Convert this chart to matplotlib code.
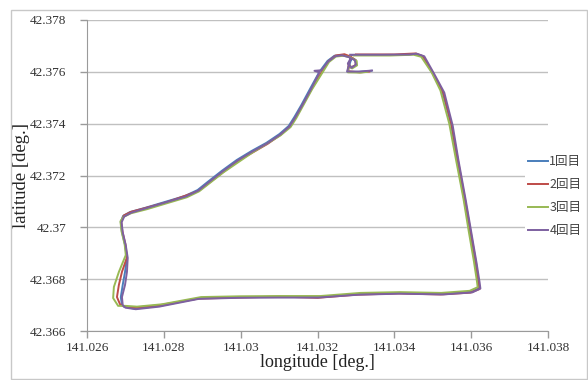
import matplotlib
matplotlib.use("Agg")
import matplotlib.pyplot as plt
import matplotlib.ticker as plticker
from matplotlib.patches import Rectangle

# + ---- data: GPS tracks (longitude, latitude) ----
labels = ["1回目", "2回目", "3回目", "4回目"]
colors = ["#4a7ebb", "#be4b48", "#98b954", "#7d60a0"]

run1 = [
    (141.03288, 42.37665), (141.03361, 42.37665), (141.03413, 42.37665), (141.03454, 42.37669),
    (141.03473, 42.37661), (141.03499, 42.37596), (141.03525, 42.37523), (141.03548, 42.37395),
    (141.03563, 42.37260), (141.03582, 42.37106), (141.03597, 42.36978), (141.03610, 42.36866),
    (141.03618, 42.36789), (141.03621, 42.36766), (141.03600, 42.36751), (141.03525, 42.36743),
    (141.03413, 42.36747), (141.03309, 42.36743), (141.03205, 42.36731), (141.03101, 42.36731),
    (141.02997, 42.36731), (141.02894, 42.36727), (141.02790, 42.36697), (141.02725, 42.36686),
    (141.02697, 42.36693), (141.02691, 42.36700), (141.02688, 42.36731), (141.02693, 42.36778),
    (141.02699, 42.36828), (141.02704, 42.36882), (141.02699, 42.36932), (141.02691, 42.36982),
    (141.02688, 42.37021), (141.02694, 42.37044), (141.02712, 42.37059), (141.02751, 42.37075),
    (141.02803, 42.37098), (141.02855, 42.37121), (141.02888, 42.37144), (141.02914, 42.37175),
    (141.02951, 42.37218), (141.02990, 42.37260), (141.03029, 42.37295), (141.03067, 42.37326),
    (141.03101, 42.37360), (141.03125, 42.37391), (141.03140, 42.37426), (141.03158, 42.37472),
    (141.03182, 42.37538), (141.03205, 42.37600), (141.03226, 42.37642), (141.03244, 42.37662),
    (141.03265, 42.37665), (141.03283, 42.37658), (141.03299, 42.37646), (141.03301, 42.37627),
    (141.03288, 42.37615), (141.03280, 42.37631), (141.03288, 42.37650), (141.03283, 42.37627),
    (141.03278, 42.37600), (141.03309, 42.37600), (141.03340, 42.37604),
]

run2 = [
    (141.03300, 42.37667), (141.03400, 42.37667), (141.03456, 42.37671), (141.03475, 42.37660),
    (141.03502, 42.37592), (141.03528, 42.37518), (141.03550, 42.37390), (141.03566, 42.37255),
    (141.03585, 42.37100), (141.03600, 42.36972), (141.03613, 42.36860), (141.03620, 42.36785),
    (141.03622, 42.36762), (141.03598, 42.36748), (141.03520, 42.36741), (141.03410, 42.36745),
    (141.03300, 42.36740), (141.03200, 42.36728), (141.03100, 42.36733), (141.02995, 42.36729),
    (141.02890, 42.36725), (141.02785, 42.36699), (141.02722, 42.36690), (141.02694, 42.36696),
    (141.02686, 42.36703), (141.02678, 42.36731), (141.02683, 42.36778), (141.02691, 42.36828),
    (141.02704, 42.36884), (141.02700, 42.36935), (141.02692, 42.36985), (141.02689, 42.37023),
    (141.02696, 42.37046), (141.02715, 42.37060), (141.02806, 42.37096), (141.02890, 42.37140),
    (141.02918, 42.37172), (141.02993, 42.37256), (141.03070, 42.37322), (141.03104, 42.37357),
    (141.03127, 42.37388), (141.03143, 42.37424), (141.03185, 42.37535), (141.03228, 42.37640),
    (141.03247, 42.37663), (141.03270, 42.37668), (141.03286, 42.37659), (141.03300, 42.37644),
    (141.03299, 42.37625), (141.03286, 42.37617), (141.03281, 42.37633), (141.03280, 42.37602),
    (141.03310, 42.37598), (141.03335, 42.37601),
]

run3 = [
    (141.03295, 42.37663), (141.03390, 42.37663), (141.03450, 42.37666), (141.03470, 42.37658),
    (141.03497, 42.37598), (141.03520, 42.37528), (141.03543, 42.37400), (141.03560, 42.37265),
    (141.03580, 42.37110), (141.03594, 42.36982), (141.03607, 42.36870), (141.03615, 42.36792),
    (141.03617, 42.36769), (141.03596, 42.36755), (141.03522, 42.36747), (141.03415, 42.36750),
    (141.03312, 42.36747), (141.03208, 42.36735), (141.03104, 42.36735), (141.03000, 42.36734),
    (141.02897, 42.36731), (141.02795, 42.36703), (141.02730, 42.36694), (141.02700, 42.36697),
    (141.02681, 42.36697), (141.02668, 42.36727), (141.02670, 42.36770), (141.02683, 42.36828),
    (141.02701, 42.36893), (141.02698, 42.36935), (141.02690, 42.36984), (141.02687, 42.37023),
    (141.02695, 42.37040), (141.02714, 42.37054), (141.02756, 42.37070), (141.02860, 42.37116),
    (141.02892, 42.37139), (141.02955, 42.37212), (141.03032, 42.37290), (141.03104, 42.37355),
    (141.03130, 42.37387), (141.03145, 42.37422), (141.03186, 42.37533), (141.03230, 42.37638),
    (141.03248, 42.37659), (141.03268, 42.37662), (141.03285, 42.37656), (141.03302, 42.37642),
    (141.03303, 42.37625), (141.03290, 42.37613), (141.03282, 42.37629), (141.03279, 42.37598),
    (141.03312, 42.37597), (141.03330, 42.37600),
]

run4 = [
    (141.03285, 42.37666), (141.03370, 42.37666), (141.03440, 42.37667), (141.03458, 42.37670),
    (141.03478, 42.37660), (141.03503, 42.37594), (141.03530, 42.37520), (141.03552, 42.37392),
    (141.03567, 42.37258), (141.03586, 42.37104), (141.03601, 42.36975), (141.03614, 42.36863),
    (141.03622, 42.36787), (141.03624, 42.36764), (141.03603, 42.36749), (141.03527, 42.36741),
    (141.03414, 42.36744), (141.03306, 42.36740), (141.03202, 42.36729), (141.03098, 42.36729),
    (141.02993, 42.36728), (141.02891, 42.36724), (141.02788, 42.36694), (141.02727, 42.36684),
    (141.02700, 42.36690), (141.02693, 42.36700), (141.02691, 42.36731), (141.02699, 42.36778),
    (141.02704, 42.36828), (141.02706, 42.36882), (141.02701, 42.36930), (141.02693, 42.36980),
    (141.02690, 42.37019), (141.02697, 42.37042), (141.02716, 42.37057), (141.02752, 42.37073),
    (141.02804, 42.37096), (141.02857, 42.37119), (141.02890, 42.37142), (141.02916, 42.37173),
    (141.02953, 42.37216), (141.02992, 42.37258), (141.03031, 42.37293), (141.03069, 42.37324),
    (141.03103, 42.37358), (141.03127, 42.37389), (141.03142, 42.37424), (141.03160, 42.37470),
    (141.03184, 42.37536), (141.03205, 42.37598), (141.03192, 42.37604), (141.03210, 42.37606),
    (141.03228, 42.37640), (141.03246, 42.37660), (141.03263, 42.37664), (141.03281, 42.37657),
    (141.03297, 42.37645), (141.03300, 42.37628), (141.03289, 42.37616), (141.03279, 42.37632),
    (141.03286, 42.37651), (141.03277, 42.37601), (141.03308, 42.37601), (141.03342, 42.37605),
]

runs = [run1, run2, run3, run4]

x_ticks = [141.026, 141.028, 141.030, 141.032, 141.034, 141.036, 141.038]
y_ticks = [42.366, 42.368, 42.370, 42.372, 42.374, 42.376, 42.378]

# + ---- figure ----
fig = plt.figure(figsize=(5.88, 3.8), dpi=100)
fig.patches.append(Rectangle((11 / 588, 1 / 380), 576 / 588, 369 / 380,
                             transform=fig.transFigure, fill=False,
                             edgecolor="#c8c8c8", lw=1))

ax = fig.add_axes([87 / 588, 1 - 331 / 380, (548 - 87) / 588, (331 - 20) / 380])

for run, lab, c in zip(runs, labels, colors):
    lon = [p[0] for p in run]
    lat = [p[1] for p in run]
    ax.plot(lon, lat, color=c, lw=1.4, label=lab, solid_joinstyle="round")

ax.set_xlim(x_ticks[0], x_ticks[-1])
ax.set_ylim(y_ticks[0], y_ticks[-1])
ax.set_xticks(x_ticks)
ax.set_yticks(y_ticks)
fmt = plticker.FuncFormatter(lambda v, p: f"{v:.3f}".rstrip("0").rstrip("."))
ax.xaxis.set_major_formatter(fmt)
ax.yaxis.set_major_formatter(fmt)

ax.yaxis.grid(True, color="#c0c0c0", lw=1)
ax.set_axisbelow(True)
for s in ("top", "right"):
    ax.spines[s].set_visible(False)
for s in ("left", "bottom"):
    ax.spines[s].set_color("#9a9a9a")
ax.tick_params(direction="out", length=5, color="#9a9a9a", width=1,
               labelsize=9.5, labelcolor="#333333")
ax.tick_params(axis="y", pad=10)
ax.tick_params(axis="x", pad=3)
for t in ax.get_xticklabels() + ax.get_yticklabels():
    t.set_fontfamily("Liberation Serif")

ax.set_xlabel("longitude [deg.]", family="Liberation Serif", fontsize=13,
              color="#222222", labelpad=0)
ax.set_ylabel("latitude [deg.]", family="Liberation Serif", fontsize=13.5,
              color="#222222", labelpad=0)

leg = fig.legend(loc="center left", bbox_to_anchor=(525 / 588, 1 - 196 / 380),
                 frameon=True, fancybox=False, edgecolor="none", facecolor="white",
                 framealpha=1, handlelength=1.6, handletextpad=0.15,
                 labelspacing=0.8, borderpad=0.2, borderaxespad=0,
                 prop={"family": ["Noto Sans CJK JP", "DejaVu Sans"], "size": 9})
for t in leg.get_texts():
    t.set_color("#444444")

fig.savefig("out.png", dpi=100)
